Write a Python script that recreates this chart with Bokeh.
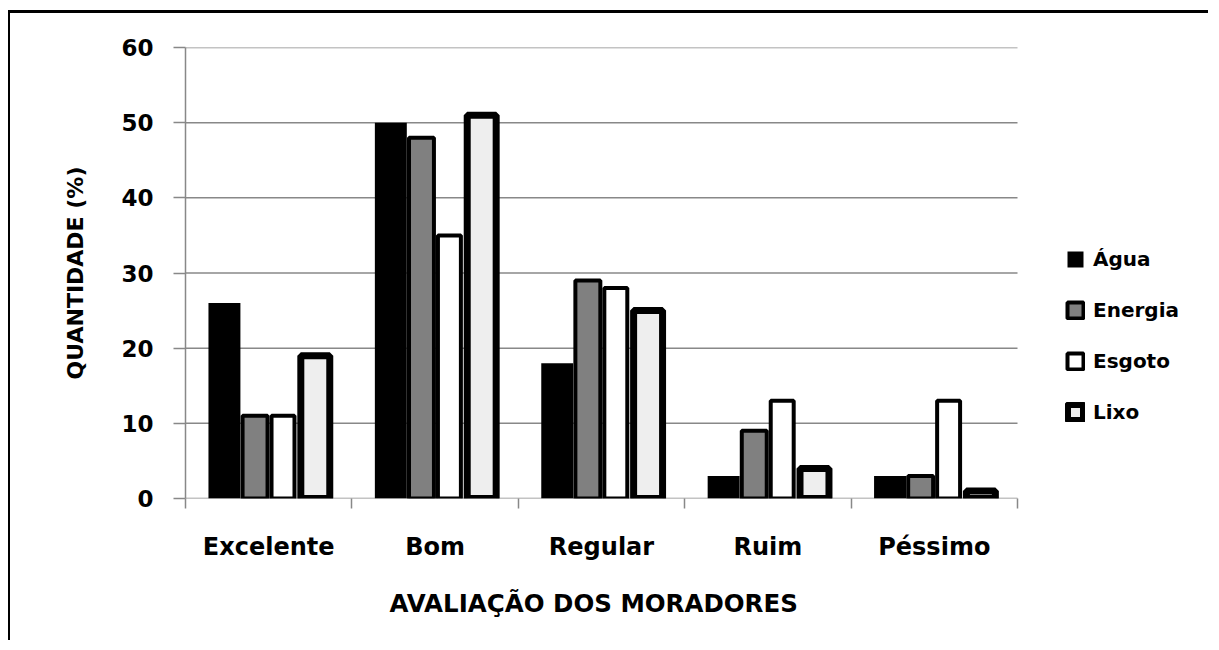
from bokeh.plotting import figure
from bokeh.models import ColumnDataSource, Range1d, FixedTicker, Legend, LegendItem, Title
from bokeh.transform import dodge
from bokeh.embed import file_html
from bokeh.resources import INLINE

categories = ["Excelente", "Bom", "Regular", "Ruim", "Péssimo"]
series = ["Água", "Energia", "Esgoto", "Lixo"]
agua = [26, 50, 18, 3, 3]
energia = [11, 48, 29, 9, 3]
esgoto = [11, 35, 28, 13, 13]
lixo = [19, 51, 25, 4, 1]
y_ticks = [0, 10, 20, 30, 40, 50, 60]
x_title = "AVALIAÇÃO DOS MORADORES"
y_title = "QUANTIDADE (%)"

FONT = "DejaVu Sans"
GRID = "#888888"

n = len(categories)
x_pos = [i + 0.5 for i in range(n)]
src = ColumnDataSource(dict(x=x_pos, cat=categories, agua=agua, energia=energia,
                            esgoto=esgoto, lixo=lixo))

# frame extends to the right so the legend (drawn inside it) is not clipped
p = figure(width=1200, height=630, output_backend="svg", toolbar_location=None,
           x_range=Range1d(0, n * 1015 / 832), y_range=Range1d(0, 60),
           min_border_left=175, min_border_right=10, min_border_top=34,
           min_border_bottom=145)
p.styles = {"border-top": "3px solid black", "border-left": "2px solid black",
            "margin-left": "8px", "margin-top": "10px"}
p.outline_line_color = None
p.background_fill_color = "white"
p.border_fill_color = "white"

# horizontal gridlines limited to the category area
p.segment(x0=[0] * len(y_ticks), y0=y_ticks, x1=[n] * len(y_ticks), y1=y_ticks,
          line_color=GRID, line_width=1.5)

# bar styles: (column, offset, width, fill, line color, line width)
styles = [
    ("agua", -0.266, 0.192, "#000000", None, 0),
    ("energia", -0.082, 0.150, "#808080", "black", 4),
    ("esgoto", 0.086, 0.138, "#ffffff", "black", 4),
    ("lixo", 0.280, 0.174, "#eeeeee", "black", 7),
]
renderers = []
for col, off, w, fill, lc, lw in styles:
    r = p.vbar(x=dodge("x", off, range=p.x_range), top=col, width=w, bottom=0,
               source=src, fill_color=fill, line_color=lc, line_width=lw)
    renderers.append(r)

# axes
p.xaxis.ticker = FixedTicker(ticks=x_pos, minor_ticks=list(range(n + 1)))
p.xaxis.major_label_overrides = {x: c for x, c in zip(x_pos, categories)}
p.xaxis.major_tick_out = 0
p.xaxis.major_tick_in = 0
p.xaxis.minor_tick_out = 10
p.xaxis.minor_tick_in = 0
p.xaxis.minor_tick_line_color = GRID
p.xaxis.minor_tick_line_width = 1.5
p.xaxis.axis_line_color = None
p.xaxis.major_label_text_font = FONT
p.xaxis.major_label_text_font_style = "bold"
p.xaxis.major_label_text_font_size = "24px"
p.xaxis.major_label_text_color = "black"
p.xaxis.major_label_standoff = 24

# x axis title, centred under the category area
xt = Title(text=x_title, align="left", offset=204, standoff=46,
           text_font=FONT, text_font_style="bold", text_font_size="24.5px",
           text_color="black")
p.add_layout(xt, "below")

p.yaxis.ticker = FixedTicker(ticks=y_ticks, minor_ticks=[])
p.yaxis.major_tick_out = 12
p.yaxis.major_tick_in = 0
p.yaxis.major_tick_line_color = GRID
p.yaxis.major_tick_line_width = 1.5
p.yaxis.minor_tick_line_color = None
p.yaxis.axis_line_color = GRID
p.yaxis.axis_line_width = 1.5
p.yaxis.major_label_text_font = FONT
p.yaxis.major_label_text_font_style = "bold"
p.yaxis.major_label_text_font_size = "23px"
p.yaxis.major_label_text_color = "black"
p.yaxis.major_label_standoff = 20
p.yaxis.axis_label = y_title
p.yaxis.axis_label_text_font = FONT
p.yaxis.axis_label_text_font_style = "bold"
p.yaxis.axis_label_text_font_size = "22px"
p.yaxis.axis_label_text_color = "black"
p.yaxis.axis_label_standoff = 30

p.xgrid.grid_line_color = None
p.ygrid.grid_line_color = None

legend = Legend(items=[LegendItem(label=s, renderers=[r]) for s, r in zip(series, renderers)],
                location=(880, 74))
legend.border_line_color = None
legend.background_fill_alpha = 0
legend.padding = 0
legend.margin = 0
legend.glyph_width = 20
legend.glyph_height = 20
legend.label_height = 20
legend.spacing = 27
legend.label_standoff = 8
legend.label_text_font = FONT
legend.label_text_font_style = "bold"
legend.label_text_font_size = "20px"
legend.label_text_color = "black"
p.add_layout(legend, "center")

open("out.html", "w").write(file_html(p, INLINE))
